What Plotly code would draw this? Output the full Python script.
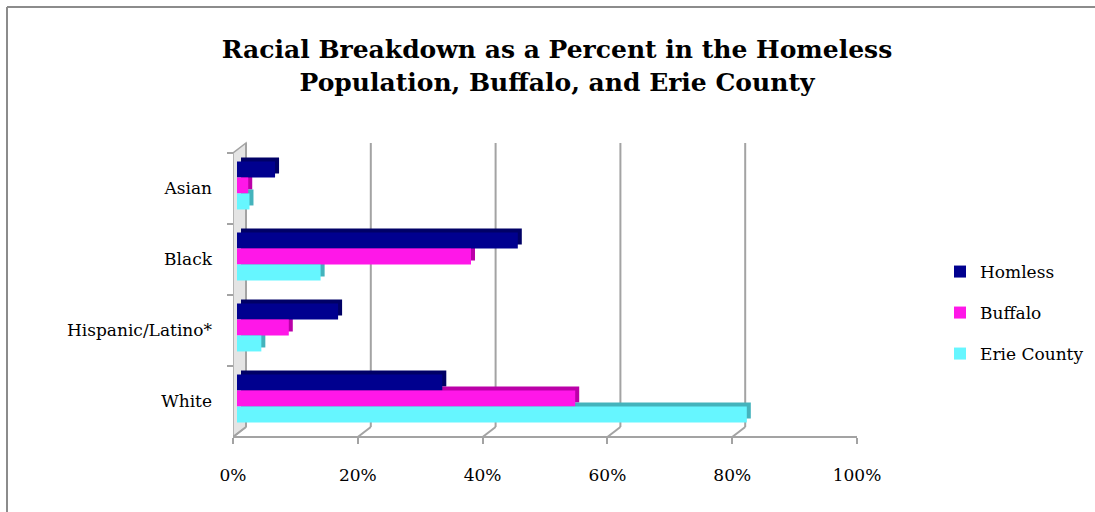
import plotly.graph_objects as go

# ---------------- data ----------------
CATEGORIES = ["Asian", "Black", "Hispanic/Latino*", "White"]
SERIES_NAMES = ["Homless", "Buffalo", "Erie County"]
HOMLESS = [6.1, 45.0, 16.2, 32.9]
BUFFALO = [1.8, 37.5, 8.3, 54.2]
ERIE_COUNTY = [2.0, 13.4, 3.9, 81.7]
X_TICKS = [0, 20, 40, 60, 80, 100]
X_TICK_TEXT = ["0%", "20%", "40%", "60%", "80%", "100%"]

# ---------------- styling ----------------
W, H = 1095, 512
FONT = "DejaVu Serif"
FRONT_COLORS = ["#00008f", "#ff17e8", "#66f6ff"]
SIDE_COLORS = ["#000066", "#bb00a8", "#44b3bc"]
GRID = "#a3a3a3"
BAR_W = 0.225
BAR_OFFSETS = [-0.380, -0.155, 0.070]
DEPTH_UP = 0.056  # 3D face offset (category units)


def PX(p):
    return p / W


def PY(p):
    return 1 - p / H


values = [HOMLESS, BUFFALO, ERIE_COUNTY]
fig = go.Figure()

# 3D side/top faces (drawn first, on shifted axis x)
for name, vals, col, off in zip(SERIES_NAMES, values, SIDE_COLORS, BAR_OFFSETS):
    fig.add_trace(go.Bar(
        y=CATEGORIES, x=vals, orientation="h", xaxis="x", yaxis="y",
        offset=off - DEPTH_UP, width=BAR_W, marker=dict(color=col, line=dict(width=0)),
        showlegend=False, hoverinfo="skip"))

# dummy to hold front axis
fig.add_trace(go.Scatter(x=[], y=[], xaxis="x2", yaxis="y", showlegend=False, hoverinfo="skip"))

# front faces
legends = ["legend", "legend2", "legend3"]
for name, vals, col, off, lg in zip(SERIES_NAMES, values, FRONT_COLORS, BAR_OFFSETS, legends):
    fig.add_trace(go.Bar(
        y=CATEGORIES, x=vals, orientation="h", xaxis="x3", yaxis="y",
        offset=off, width=BAR_W, marker=dict(color=col, line=dict(width=0)),
        name=name, legend=lg))

shapes = []
# left wall slab
shapes.append(dict(type="path", xref="x2", xsizemode="pixel", xanchor=0, yref="paper",
                   path=f"M 0,{PY(437)} L 0,{PY(153)} L 13,{PY(143)} L 13,{PY(427)} Z",
                   fillcolor="#e4e4e4", line=dict(color=GRID, width=1.5), layer="below"))
for v in X_TICKS:
    # back wall gridlines
    shapes.append(dict(type="line", xref="x2", xsizemode="pixel", xanchor=v, x0=13, x1=13,
                       yref="paper", y0=PY(427), y1=PY(143), line=dict(color=GRID, width=2),
                       layer="below"))
    # floor diagonals
    shapes.append(dict(type="line", xref="x2", xsizemode="pixel", xanchor=v, x0=0, x1=13,
                       yref="paper", y0=PY(437), y1=PY(427), line=dict(color=GRID, width=2),
                       layer="below"))
# outer frame
shapes.append(dict(type="line", xref="paper", yref="paper", x0=PX(7), x1=1.02, y0=PY(7), y1=PY(7),
                   line=dict(color="#8c8c8c", width=2)))
shapes.append(dict(type="line", xref="paper", yref="paper", x0=PX(7), x1=PX(7), y0=PY(7), y1=-0.02,
                   line=dict(color="#8c8c8c", width=2)))

legend_common = dict(xanchor="left", yanchor="middle", bgcolor="rgba(0,0,0,0)",
                     font=dict(family=FONT, size=17, color="black"))

fig.update_layout(
    width=W, height=H, autosize=False,
    margin=dict(l=0, r=0, t=0, b=0, autoexpand=False),
    paper_bgcolor="white", plot_bgcolor="rgba(0,0,0,0)",
    barmode="overlay", hovermode=False,
    title=dict(text="Racial Breakdown as a Percent in the Homeless<br>Population, Buffalo, and Erie County",
               x=PX(557), xanchor="center", y=PY(58), yanchor="middle", xref="paper", yref="paper",
               font=dict(family=FONT, size=25, color="black", weight=700)),
    xaxis=dict(domain=[PX(241), PX(865)], range=[0, 100], visible=False, anchor="y"),
    xaxis3=dict(domain=[PX(237), PX(861)], range=[0, 100], visible=False, anchor="y"),
    xaxis2=dict(domain=[PX(233), PX(857)], range=[0, 100], anchor="free", position=PY(437),
                showline=True, linecolor=GRID, linewidth=2, ticks="outside", ticklen=6,
                tickwidth=2, tickcolor=GRID, tickvals=X_TICKS, ticktext=X_TICK_TEXT,
                tickfont=dict(family=FONT, size=17, color="black"), showgrid=False,
                zeroline=False, ticklabelstandoff=17),
    yaxis=dict(domain=[PY(437), PY(153)], type="category", categoryorder="array",
               categoryarray=CATEGORIES, range=[3.5, -0.5], anchor="free", position=PX(233),
               ticks="outside", tickson="boundaries", ticklen=6, tickwidth=2, tickcolor=GRID,
               showline=False, showgrid=False, zeroline=False,
               tickfont=dict(family=FONT, size=17, color="black"), ticklabelstandoff=21),
    legend=dict(x=PX(940), y=PY(272), **legend_common),
    legend2=dict(x=PX(940), y=PY(313), **legend_common),
    legend3=dict(x=PX(940), y=PY(354), **legend_common),
    shapes=shapes,
)

fig.write_html(
    "out.html",
    config={"displayModeBar": False},
    post_script="document.body.style.margin='0';document.body.style.overflow='hidden';",
)
